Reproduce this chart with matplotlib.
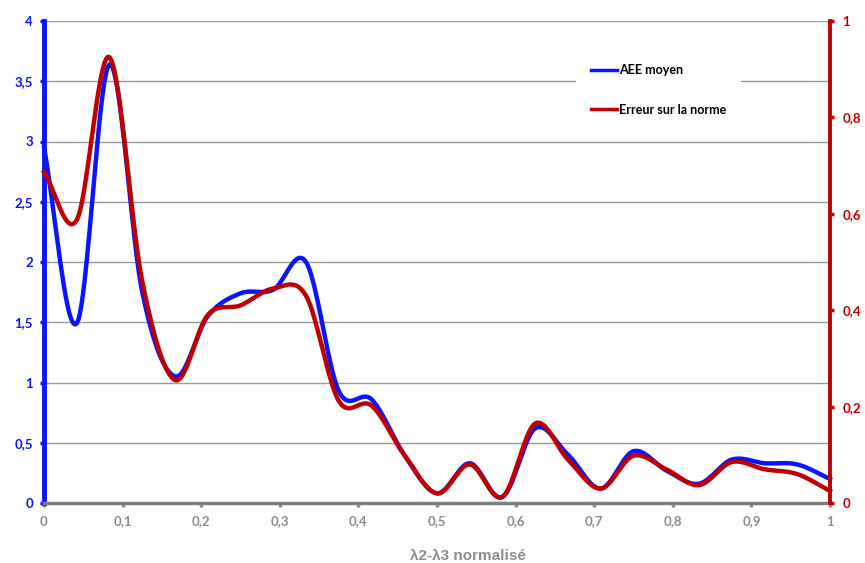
import numpy as np
import matplotlib
matplotlib.use("Agg")
import matplotlib.pyplot as plt
from matplotlib.ticker import FuncFormatter, MultipleLocator

plt.rcParams['font.family'] = ['Lato', 'DejaVu Sans']

# data: 25 points, step 1/24
x = [i / 24 for i in range(25)]
aee = [2.95, 1.49, 3.64, 1.75, 1.05, 1.55, 1.74, 1.77, 2.0, 0.93, 0.86, 0.40,
       0.08, 0.33, 0.05, 0.62, 0.40, 0.12, 0.43, 0.27, 0.16, 0.36, 0.33, 0.32, 0.20]
erreur = [0.687, 0.587, 0.925, 0.46, 0.255, 0.39, 0.41, 0.445, 0.43, 0.212, 0.202, 0.10,
          0.02, 0.08, 0.013, 0.165, 0.09, 0.03, 0.098, 0.07, 0.037, 0.085, 0.07, 0.06, 0.025]

BLUE = '#0a14ff'
RED = '#c00000'
GREY = '#8c8c8c'


def smooth(xs, ys, n=20):
    # Catmull-Rom rendering, like the "smoothed line" option in the spreadsheet
    xs = np.asarray(xs, float)
    ys = np.asarray(ys, float)
    px = np.concatenate([[2 * xs[0] - xs[1]], xs, [2 * xs[-1] - xs[-2]]])
    py = np.concatenate([[2 * ys[0] - ys[1]], ys, [2 * ys[-1] - ys[-2]]])
    outx, outy = [], []
    t = np.linspace(0, 1, n, endpoint=False)
    for i in range(1, len(px) - 2):
        for p, out in ((px, outx), (py, outy)):
            p0, p1, p2, p3 = p[i - 1], p[i], p[i + 1], p[i + 2]
            out.extend(0.5 * (2 * p1 + (-p0 + p2) * t + (2 * p0 - 5 * p1 + 4 * p2 - p3) * t ** 2
                              + (-p0 + 3 * p1 - 3 * p2 + p3) * t ** 3))
    outx.append(xs[-1])
    outy.append(ys[-1])
    return outx, outy


def comma(v, pos):
    s = ('%.1f' % v).rstrip('0').rstrip('.')
    return s.replace('.', ',')


fig = plt.figure(figsize=(8.65, 5.63), dpi=100)
ax = fig.add_axes([44 / 865, 60 / 563, 786 / 865, 482 / 563])
ax2 = ax.twinx()

ax.set_xlim(0, 1)
ax.set_ylim(0, 4)
ax2.set_ylim(0, 1)

ax.yaxis.set_major_locator(MultipleLocator(0.5))
ax.xaxis.set_major_locator(MultipleLocator(0.1))
ax2.yaxis.set_major_locator(MultipleLocator(0.2))
ax.xaxis.set_major_formatter(FuncFormatter(comma))
ax.yaxis.set_major_formatter(FuncFormatter(comma))
ax2.yaxis.set_major_formatter(FuncFormatter(comma))

ax.grid(axis='y', color='#9a9a9a', lw=1)
ax.set_axisbelow(True)

sx, sy = smooth(x, aee)
l1, = ax.plot(sx, sy, color=BLUE, lw=3.2, label='AEE moyen', zorder=3, clip_on=False)
sx, sy = smooth(x, erreur)
l2, = ax2.plot(sx, sy, color=RED, lw=3.2, label='Erreur sur la norme', zorder=3, clip_on=False)

ax.spines['top'].set_visible(False)
ax2.spines['top'].set_visible(False)
ax.spines['right'].set_visible(False)
ax2.spines['left'].set_visible(False)
ax2.spines['bottom'].set_visible(False)
ax.spines['left'].set_color(BLUE)
ax.spines['left'].set_linewidth(3.5)
ax2.spines['right'].set_color(RED)
ax2.spines['right'].set_linewidth(2.8)
ax.spines['bottom'].set_color('#7f7f7f')
ax.spines['bottom'].set_linewidth(2.5)

ax.tick_params(axis='y', colors=BLUE, length=3, width=2.5, labelsize=9.5, pad=5)
ax2.tick_params(axis='y', colors=RED, length=3, width=2.5, labelsize=9.5, pad=6)
ax.tick_params(axis='x', colors=GREY, length=3, width=2.5, labelsize=9.5, pad=6)
for lab in ax.get_yticklabels() + ax.get_xticklabels() + ax2.get_yticklabels():
    lab.set_fontweight('bold')

ax.set_xlabel('λ2-λ3 normalisé', color=GREY, fontsize=11, fontweight='bold',
              family=['Liberation Sans', 'DejaVu Sans'])
ax.xaxis.set_label_coords((468 - 44) / 786, -0.095)

leg = ax2.legend(handles=[l1, l2], loc='upper left', bbox_to_anchor=(532 / 786, 1 - 28 / 482),
                 frameon=True, fancybox=False, edgecolor='none', facecolor='white', framealpha=1,
                 prop={'weight': 'bold', 'size': 9}, handlelength=2.1, handletextpad=0.15,
                 labelspacing=2.2, borderpad=1.2, borderaxespad=0)
for h in leg.legend_handles:
    h.set_linewidth(2.5)
leg.set_zorder(5)

fig.savefig('out.png', dpi=100)
